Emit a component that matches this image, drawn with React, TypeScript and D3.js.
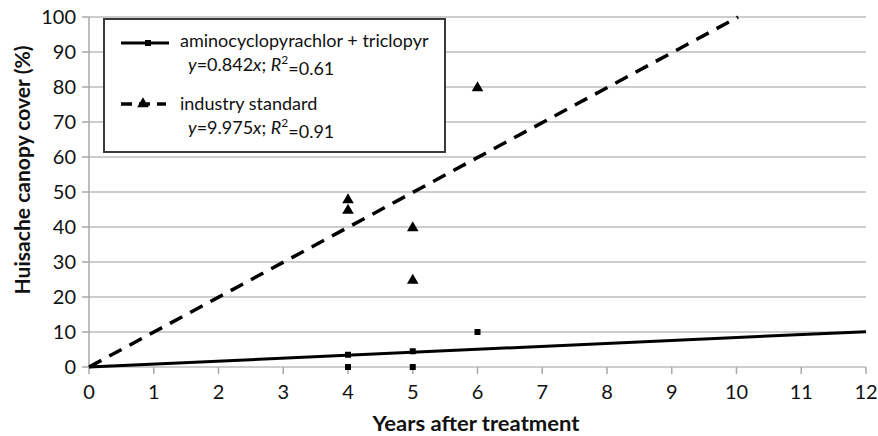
import React from 'react';
import * as d3 from 'd3';

// chart data
const xTicks = [0, 1, 2, 3, 4, 5, 6, 7, 8, 9, 10, 11, 12];
const yTicks = [0, 10, 20, 30, 40, 50, 60, 70, 80, 90, 100];

const aminoX = [4, 4, 5, 5, 6];
const aminoY = [3.5, 0, 4.5, 0, 10];
const industryX = [4, 4, 5, 5, 6];
const industryY = [48, 45, 40, 25, 80];

const aminoSlope = 0.842;
const industrySlope = 9.975;

const legendLabels = ['aminocyclopyrachlor + triclopyr', 'industry standard'];
const legendEq = [
  { a: '0.842', r: '0.61' },
  { a: '9.975', r: '0.91' },
];

const W = 878;
const H = 436;
const margin = { top: 17, right: 12, bottom: 69, left: 89 };
const font = 'Lato, "Open Sans", sans-serif';

const App = () => {
  const x = d3.scaleLinear().domain([0, 12]).range([margin.left, W - margin.right]);
  const y = d3.scaleLinear().domain([0, 100]).range([H - margin.bottom, margin.top]);

  const hline = (yy: number) =>
    d3
      .line<number>()
      .x((d) => d)
      .y(() => yy);

  const aminoLine = d3
    .line<number>()
    .x((d) => x(d))
    .y((d) => y(aminoSlope * d));
  const industryEnd = 100 / industrySlope;
  const industryLine = d3
    .line<number>()
    .x((d) => x(d))
    .y((d) => y(industrySlope * d));

  const tri = d3.symbol().type(d3.symbolTriangle).size(58);
  const x0 = x(0);
  const y0 = y(0);

  return (
    <svg
      width={W}
      height={H}
      style={{ position: 'absolute', left: 0, top: 0, background: '#fff' }}
      fontFamily={font}
    >
      {/* grid */}
      {yTicks.map((t) => (
        <line key={'g' + t} x1={x0} x2={x(12)} y1={y(t)} y2={y(t)} stroke="#bcbcbc" strokeWidth={1.5} />
      ))}
      {/* y axis */}
      <line x1={x0} x2={x0} y1={y(100)} y2={y0} stroke="#a8a8a8" strokeWidth={1.5} />
      {yTicks.map((t) => (
        <g key={'y' + t}>
          <line x1={x0 - 7} x2={x0} y1={y(t)} y2={y(t)} stroke="#a8a8a8" strokeWidth={1.5} />
          <text x={x0 - 13} y={y(t)} dy="0.36em" textAnchor="end" fontSize={20} fill="#111">
            {t}
          </text>
        </g>
      ))}
      {/* x axis ticks */}
      {xTicks.map((t) => (
        <g key={'x' + t}>
          <line x1={x(t)} x2={x(t)} y1={y0} y2={y0 + 7} stroke="#a8a8a8" strokeWidth={1.5} />
          <text x={x(t)} y={y0 + 32} textAnchor="middle" fontSize={20} fill="#111">
            {t}
          </text>
        </g>
      ))}

      {/* trend lines */}
      <path d={aminoLine([0, 12]) || ''} fill="none" stroke="#000" strokeWidth={3} />
      <path
        d={industryLine([0, industryEnd]) || ''}
        fill="none"
        stroke="#000"
        strokeWidth={3.5}
        strokeDasharray="14 9"
      />

      {/* points */}
      {aminoX.map((d, i) => (
        <rect key={'a' + i} x={x(d) - 3} y={y(aminoY[i]) - 3} width={6} height={6} fill="#000" />
      ))}
      {industryX.map((d, i) => (
        <path
          key={'t' + i}
          d={tri() || ''}
          transform={`translate(${x(d)},${y(industryY[i]) + 1})`}
          fill="#000"
        />
      ))}

      {/* legend */}
      <rect x={104} y={19} width={341} height={133} fill="#fff" stroke="#3a3a3a" strokeWidth={2} />
      <path d={hline(43)([121, 169]) || ''} stroke="#000" strokeWidth={3} />
      <rect x={145} y={40} width={6} height={6} fill="#000" />
      <path d={hline(104)([121, 166]) || ''} stroke="#000" strokeWidth={3.5} strokeDasharray="11 7" />
      <path d={tri() || ''} transform="translate(143,104)" fill="#000" />
      {legendLabels.map((l, i) => (
        <g key={'l' + i}>
          <text x={180} y={41 + i * 63} dy="0.35em" fontSize={18} fill="#111">
            {l}
          </text>
          <text x={188} y={65 + i * 63} dy="0.35em" fontSize={18} fill="#111">
            <tspan fontStyle="italic">y</tspan>={legendEq[i].a}
            <tspan fontStyle="italic">x</tspan>; <tspan fontStyle="italic">R</tspan>
            <tspan fontSize={12} dy="-0.6em">2</tspan>
            <tspan dy="0.6em">={legendEq[i].r}</tspan>
          </text>
        </g>
      ))}

      {/* axis titles */}
      <text
        x={476}
        y={424}
        dy="0.35em"
        textAnchor="middle"
        fontSize={21}
        fontWeight="bold"
        fill="#111"
        textLength={207}
        lengthAdjust="spacingAndGlyphs"
      >
        Years after treatment
      </text>
      <text
        transform="translate(23,170) rotate(-90)"
        dy="0.35em"
        textAnchor="middle"
        fontSize={20.5}
        fontWeight="bold"
        fill="#111"
        textLength={249}
        lengthAdjust="spacingAndGlyphs"
      >
        Huisache canopy cover (%)
      </text>
    </svg>
  );
};

export default App;
